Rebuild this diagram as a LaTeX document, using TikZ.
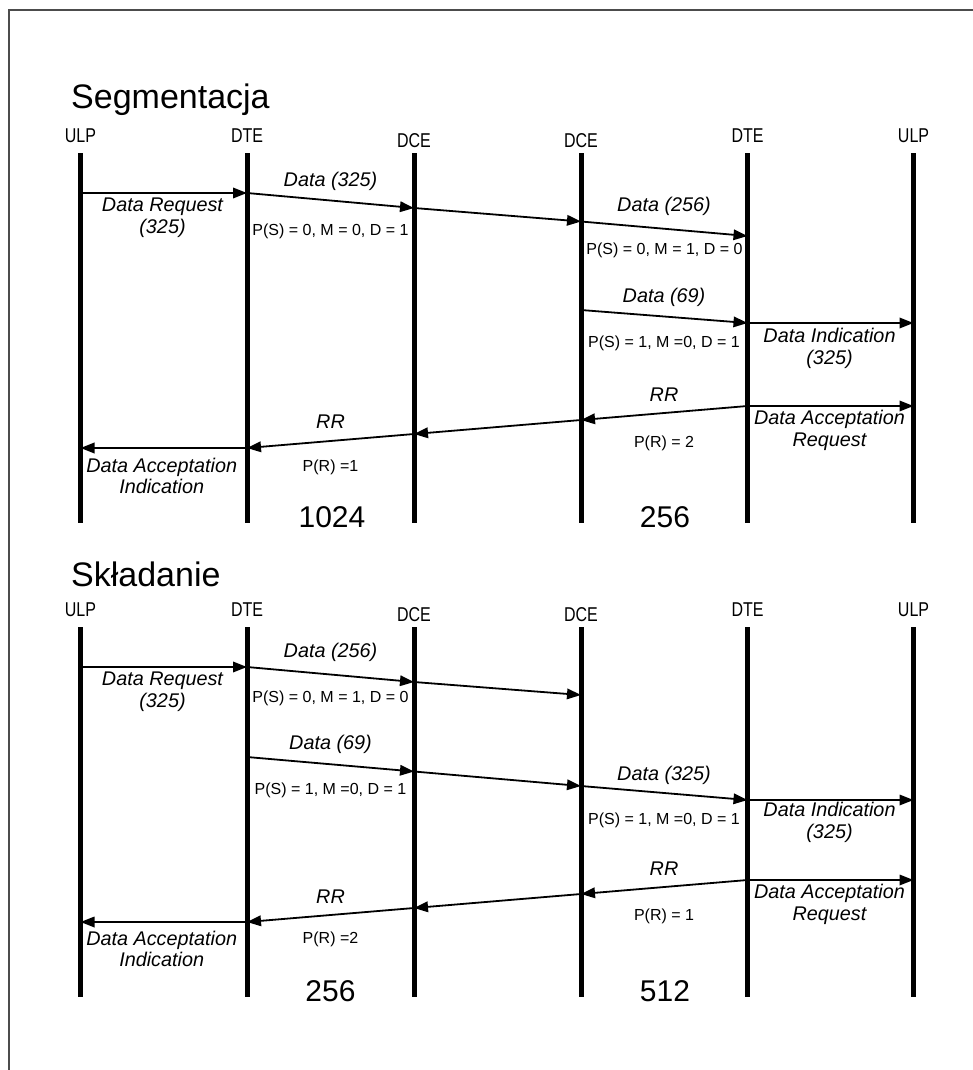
\documentclass[tikz,border=0pt]{standalone}
\usepackage{fontspec}
\setmainfont{Liberation Sans}
\usetikzlibrary{arrows.meta}
\newcommand{\narrowtext}[1]{\scalebox{0.8}[1]{#1}}
\begin{document}
\begin{tikzpicture}[x=1pt,y=-1pt,
  lifeline/.style={line width=5pt},
  msg/.style={line width=1.8pt,-{Triangle[length=14pt,width=10.5pt]}},
  lbl/.style={font=\fontsize{19.8}{21.8}\selectfont\itshape, align=center, inner sep=0pt},
  seq/.style={font=\fontsize{16}{18}\selectfont, inner sep=0pt},
  head/.style={font=\fontsize{20}{22}\selectfont, inner sep=0pt},
  big/.style={font=\fontsize{30}{32}\selectfont, inner sep=0pt},
  ttl/.style={font=\fontsize{34}{37}\selectfont, inner sep=0pt, anchor=west},
  frame/.style={line width=1.2pt, draw=black!70}]
\useasboundingbox (0,0) rectangle (973,1070);
\draw[frame] (9,1070) -- (9,10) -- (973,10);

% ---------- Section A: Segmentacja ----------
\node[ttl] (titleA) at (71,100) {Segmentacja};
\foreach \i/\x/\hy/\t in {1/80.5/136/ULP,2/247/136/DTE,3/414/140.5/DCE,4/581/140.5/DCE,5/747.5/136/DTE,6/913.5/136/ULP}{
  \node[head] (hA\i) at (\x,\hy) {\narrowtext{\t}};
  \coordinate (At\i) at (\x,153);
  \coordinate (Ab\i) at (\x,523);
  \draw[lifeline] (At\i) -- (Ab\i);
}
\coordinate (pA1) at (80.5,193);
\coordinate (pA2) at (247,193);
\coordinate (pA3) at (414,208);
\coordinate (pA4) at (581,221.5);
\coordinate (pA5) at (747.5,236);
\coordinate (qA4) at (581,310);
\coordinate (qA5) at (747.5,323);
\coordinate (qA6) at (913.5,323);
\coordinate (rA5) at (747.5,406);
\coordinate (rA6) at (913.5,406);
\coordinate (rA4) at (581,420);
\coordinate (rA3) at (414,434);
\coordinate (rA2) at (247,448);
\coordinate (rA1) at (80.5,448);

\draw[msg] (pA1) -- (pA2);
\draw[msg] (pA2) -- (pA3);
\draw[msg] (pA3) -- (pA4);
\draw[msg] (pA4) -- (pA5);
\draw[msg] (qA4) -- (qA5);
\draw[msg] (qA5) -- (qA6);
\draw[msg] (rA5) -- (rA6);
\draw[msg] (rA5) -- (rA4);
\draw[msg] (rA4) -- (rA3);
\draw[msg] (rA3) -- (rA2);
\draw[msg] (rA2) -- (rA1);

\node[lbl] (lA1) at (162.5,217.5) {Data Request\\(325)};
\node[lbl] (lA2) at (330.5,181) {Data (325)};
\node[seq] (sA2) at (330.5,231) {P(S) = 0, M = 0, D = 1};
\node[lbl] (lA4) at (664,206.5) {Data (256)};
\node[seq] (sA4) at (664.5,250) {P(S) = 0, M = 1, D = 0};
\node[lbl] (lA5) at (664,297) {Data (69)};
\node[seq] (sA5) at (664,343) {P(S) = 1, M =0, D = 1};
\node[lbl] (lA6) at (829.5,348) {Data Indication\\(325)};
\node[lbl] (lA7) at (829.5,430.5) {Data Acceptation\\Request};
\node[lbl] (lA8) at (664,395) {RR};
\node[seq] (sA8) at (664,443) {P(R) = 2};
\node[lbl] (lA10) at (330.5,422) {RR};
\node[seq] (sA10) at (330.5,467) {P(R) =1};
\node[lbl] (lA11) at (161.7,476) {Data Acceptation\\Indication};
\node[big] (nA1) at (332,517.5) {1024};
\node[big] (nA2) at (665,517.5) {256};

% ---------- Section B: Składanie ----------
\node[ttl] (titleB) at (71,574) {Składanie};
\foreach \i/\x/\hy/\t in {1/80.5/610/ULP,2/247/610/DTE,3/414/614.5/DCE,4/581/614.5/DCE,5/747.5/610/DTE,6/913.5/610/ULP}{
  \node[head] (hB\i) at (\x,\hy) {\narrowtext{\t}};
  \coordinate (Bt\i) at (\x,627);
  \coordinate (Bb\i) at (\x,997);
  \draw[lifeline] (Bt\i) -- (Bb\i);
}
\coordinate (pB1) at (80.5,667);
\coordinate (pB2) at (247,667);
\coordinate (pB3) at (414,682);
\coordinate (pB4) at (581,695);
\coordinate (qB2) at (247,757);
\coordinate (qB3) at (414,771.5);
\coordinate (qB4) at (581,786);
\coordinate (qB5) at (747.5,800);
\coordinate (qB6) at (913.5,800);
\coordinate (rB5) at (747.5,880);
\coordinate (rB6) at (913.5,880);
\coordinate (rB4) at (581,894);
\coordinate (rB3) at (414,908);
\coordinate (rB2) at (247,922);
\coordinate (rB1) at (80.5,922);

\draw[msg] (pB1) -- (pB2);
\draw[msg] (pB2) -- (pB3);
\draw[msg] (pB3) -- (pB4);
\draw[msg] (qB2) -- (qB3);
\draw[msg] (qB3) -- (qB4);
\draw[msg] (qB4) -- (qB5);
\draw[msg] (qB5) -- (qB6);
\draw[msg] (rB5) -- (rB6);
\draw[msg] (rB5) -- (rB4);
\draw[msg] (rB4) -- (rB3);
\draw[msg] (rB3) -- (rB2);
\draw[msg] (rB2) -- (rB1);

\node[lbl] (lB1) at (162.5,691.5) {Data Request\\(325)};
\node[lbl] (lB2) at (330.5,652) {Data (256)};
\node[seq] (sB2) at (330.5,698) {P(S) = 0, M = 1, D = 0};
\node[lbl] (lB3) at (330.5,744) {Data (69)};
\node[seq] (sB3) at (330.5,790) {P(S) = 1, M =0, D = 1};
\node[lbl] (lB5) at (664,775) {Data (325)};
\node[seq] (sB5) at (664,820) {P(S) = 1, M =0, D = 1};
\node[lbl] (lB6) at (829.5,822) {Data Indication\\(325)};
\node[lbl] (lB7) at (829.5,904.5) {Data Acceptation\\Request};
\node[lbl] (lB8) at (664,869) {RR};
\node[seq] (sB8) at (664,916) {P(R) = 1};
\node[lbl] (lB10) at (330.5,897) {RR};
\node[seq] (sB10) at (330.5,939) {P(R) =2};
\node[lbl] (lB11) at (161.7,949) {Data Acceptation\\Indication};
\node[big] (nB1) at (330.5,991.5) {256};
\node[big] (nB2) at (665,991) {512};
\end{tikzpicture}
\end{document}
